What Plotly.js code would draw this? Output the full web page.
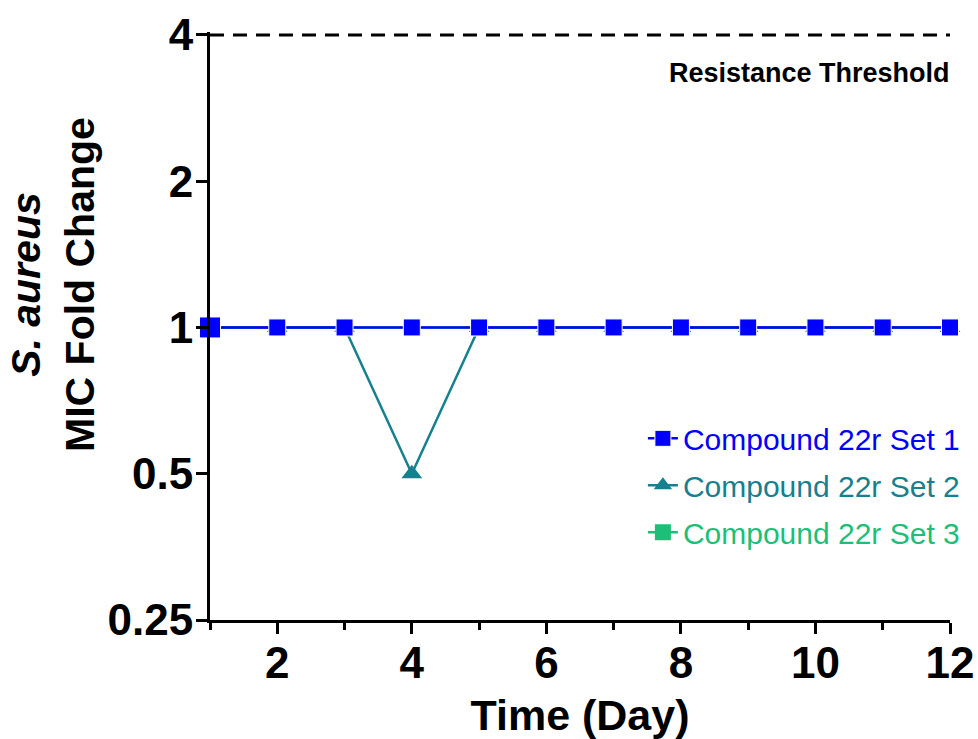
<!DOCTYPE html>
<html>
<head>
<meta charset="utf-8">
<script src="https://cdn.plot.ly/plotly-3.0.1.min.js"></script>
<style>html,body{margin:0;padding:0;background:#fff;}#chart{width:978px;height:739px;}</style>
</head>
<body>
<div id="chart"></div>
<script>
const days = [1,2,3,4,5,6,7,8,9,10,11,12];
const set1 = [1,1,1,1,1,1,1,1,1,1,1,1];
const set2 = [1,1,1,0.5,1,1,1,1,1,1,1,1];
const set3 = [1,1,1,1,1,1,1,1,1,1,1,1];
const seriesNames = ['Compound 22r Set 1','Compound 22r Set 2','Compound 22r Set 3'];
const thresholdX = [1,12];
const thresholdY = [4,4];
const thresholdLabel = 'Resistance Threshold';
const yTickVals = [0.25,0.5,1,2,4];
const yTickText = ['0.25','0.5','1','2','4'];
const xTickVals = [2,4,6,8,10,12];
const xMinorVals = [1,3,5,7,9,11];

const FONT = '"Liberation Sans", Arial, Helvetica, sans-serif';
const c1 = '#0000ff', c2 = '#16808f', c3 = '#1dbf78';

const traces = [
  {x: thresholdX, y: thresholdY, mode:'lines', line:{color:'#000', width:3, dash:'14px,9px'}, showlegend:false, cliponaxis:false, hoverinfo:'skip'},
  {x: days, y: set3, mode:'lines+markers', name:'<span style="color:'+c3+'">'+seriesNames[2]+'</span>', legendrank:3, legendgroup:'c',
   line:{color:c3, width:2.5}, marker:{symbol:'square', size:17, color:c3, opacity:1}, cliponaxis:false},
  {x: days, y: set2, mode:'lines+markers', name:'<span style="color:'+c2+'">'+seriesNames[1]+'</span>', legendrank:2, legendgroup:'b',
   line:{color:c2, width:2.5}, marker:{symbol:'triangle-up', size:18, color:c2, opacity:1}, cliponaxis:false},
  {x: days, y: set1, mode:'lines+markers', name:'<span style="color:'+c1+'">'+seriesNames[0]+'</span>', legendrank:1, legendgroup:'a',
   line:{color:c1, width:2.5}, marker:{symbol:'square', size:days.map((d,i)=> i===0 ? 21 : 17), color:c1, opacity:1}, cliponaxis:false}
];

const yTop = Math.log10(4) + 0.006;
const layout = {
  width:978, height:739,
  margin:{l:210, r:28, t:32, b:119},
  paper_bgcolor:'#fff', plot_bgcolor:'#fff',
  font:{family:FONT, color:'#000'},
  showlegend:true,
  legend:{x:0.585, xanchor:'left', y:0.229, yanchor:'middle', bgcolor:'rgba(0,0,0,0)',
    font:{family:FONT, size:30}, tracegroupgap:5, itemwidth:30, traceorder:'grouped'},
  xaxis:{
    range:[1,12], showgrid:false, zeroline:false,
    showline:true, linecolor:'#000', linewidth:3,
    ticks:'outside', ticklen:11, tickwidth:3, tickcolor:'#000',
    tickvals:xTickVals, ticktext:xTickVals.map(String),
    tickfont:{family:FONT, size:44, weight:'bold'}, ticklabelstandoff:-9,
    minor:{tickvals:xMinorVals, ticks:'outside', ticklen:7, tickwidth:3, tickcolor:'#000', showgrid:false},
    title:{text:'Time (Day)', font:{family:FONT, size:43, weight:'bold'}, standoff:15}
  },
  yaxis:{
    type:'log', range:[Math.log10(0.25), yTop], showgrid:false, zeroline:false,
    showline:true, linecolor:'#000', linewidth:3,
    ticks:'outside', ticklen:11, tickwidth:3, tickcolor:'#000',
    tickvals:yTickVals, ticktext:yTickText,
    tickfont:{family:FONT, size:44, weight:'bold'}, ticklabelstandoff:-6
  },
  annotations:[
    {xref:'paper', yref:'paper', x:1.003, y:0.93, xanchor:'right', yanchor:'middle', showarrow:false,
     text:thresholdLabel, font:{family:FONT, size:27, weight:'bold', color:'#000'}},
    {xref:'paper', yref:'paper', x:-0.212, y:0.57, xanchor:'center', yanchor:'middle', showarrow:false, textangle:-90,
     text:'<i>S. aureus</i><br>MIC Fold Change', font:{family:FONT, size:41, weight:'bold', color:'#000'}}
  ]
};

Plotly.newPlot('chart', traces, layout, {displayModeBar:false, staticPlot:true});
</script>
</body>
</html>
